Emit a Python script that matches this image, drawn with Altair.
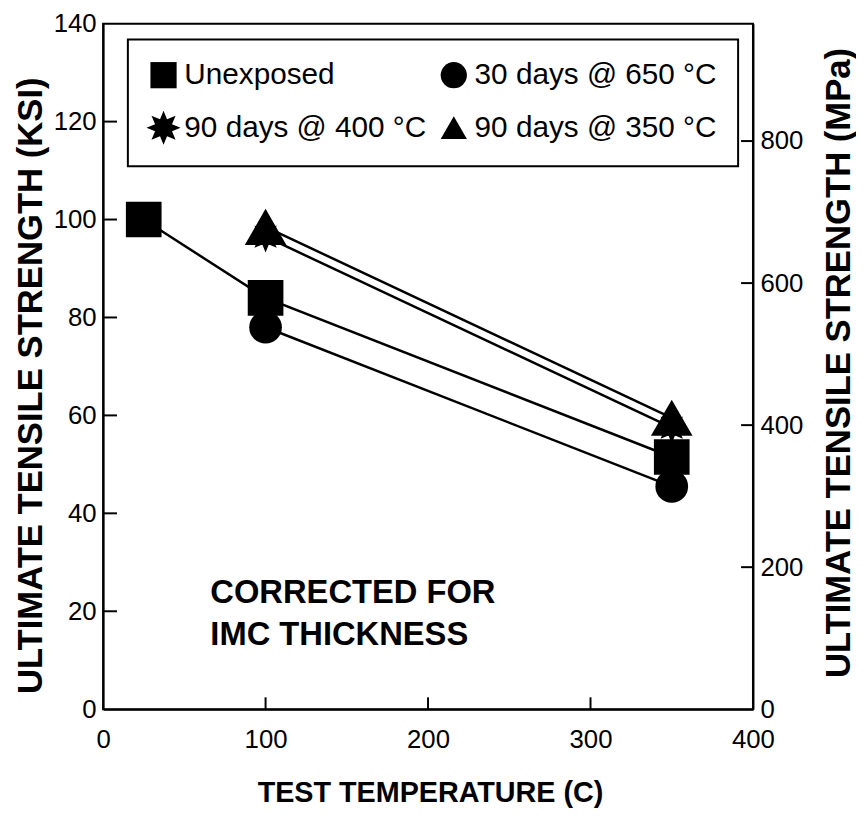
import altair as alt
import pandas as pd
import numpy as np

# ---- data ----
series = ["Unexposed", "30 days @ 650 °C", "90 days @ 400 °C", "90 days @ 350 °C"]
temp_unexposed = [25, 100, 350]
ksi_unexposed = [100, 84, 51.5]
temp_650 = [100, 350]
ksi_650 = [78, 45.5]
temp_400 = [100, 350]
ksi_400 = [96.5, 57.5]
temp_350 = [100, 350]
ksi_350 = [98.5, 59.5]

x_ticks = [0, 100, 200, 300, 400]
ksi_ticks = [0, 20, 40, 60, 80, 100, 120, 140]
mpa_ticks = [0, 200, 400, 600, 800]
note_lines = ["CORRECTED FOR", "IMC THICKNESS"]
note_temp = [66, 66]
note_ksi = [23.7, 15.2]

KSI_TO_MPA = 6.895

temps = [temp_unexposed, temp_650, temp_400, temp_350]
ksis = [ksi_unexposed, ksi_650, ksi_400, ksi_350]
rows = []
for name, ts, ks in zip(series, temps, ksis):
    for t, k in zip(ts, ks):
        rows.append({"series": name, "temp": t, "ksi": k})
df = pd.DataFrame(rows)
ann = pd.DataFrame({"text": note_lines, "temp": note_temp, "ksi": note_ksi})

# star (asterisk-like) symbol path
ang = np.arange(16) * np.pi / 8 - np.pi / 2
rad = np.where(np.arange(16) % 2 == 0, 1.3, 0.7)
star = "M" + " L".join(f"{r*np.cos(a):.3f},{r*np.sin(a):.3f}" for r, a in zip(rad, ang)) + " Z"
shape_of = {series[0]: "square", series[1]: "circle", series[2]: star, series[3]: "triangle-up"}
size_of = {series[0]: 1296, series[1]: 1089, series[2]: 600, series[3]: 1764}

# legend fills column by column: order so rows read as in the reference
legend_order = [series[0], series[2], series[1], series[3]]

W, H = 656, 692
FONT = "Liberation Sans"

x_scale = alt.Scale(domain=[0, 400], nice=False)
y_scale = alt.Scale(domain=[0, 140], nice=False)

x_enc = alt.X("temp:Q", scale=x_scale,
              axis=alt.Axis(values=x_ticks, title="TEST TEMPERATURE (C)",
                            titleFontSize=29, titleX=330, titleY=93,
                            titleBaseline="alphabetic", titleAlign="center",
                            labelPadding=18, labelFlush=False))
y_enc = alt.Y("ksi:Q", scale=y_scale,
              axis=alt.Axis(values=ksi_ticks, title="ULTIMATE  TENSILE  STRENGTH  (KSI)",
                            titleFontSize=35, titleAngle=270, titleX=-62, titleY=365,
                            titleAlign="center", titleBaseline="alphabetic",
                            labelPadding=7, labelFlush=False))

shape_enc = alt.Shape(
    "series:N",
    scale=alt.Scale(domain=legend_order, range=[shape_of[s] for s in legend_order]),
    legend=alt.Legend(title=None, orient="none", legendX=25, legendY=16,
                      columns=2, padding=21, rowPadding=20,
                      columnPadding=12, symbolSize=700,
                      symbolFillColor="black", symbolStrokeColor="black",
                      symbolStrokeWidth=0, symbolOpacity=1,
                      labelFont=FONT, labelFontSize=30,
                      labelColor="black", labelLimit=500,
                      labelOffset=6, strokeColor="black"))

lines = alt.Chart(df).mark_line(color="black", strokeWidth=2.5).encode(
    x=x_enc, y=y_enc, detail="series:N")

point_layers = []
for name in series:
    point_layers.append(
        alt.Chart(df).transform_filter(alt.datum.series == name)
        .mark_point(filled=True, color="black", opacity=1, size=size_of[name])
        .encode(x=x_enc, y=y_enc, shape=shape_enc)
    )

note = alt.Chart(ann).mark_text(align="left", baseline="middle", font=FONT,
                                fontSize=33, fontWeight="bold", color="black").encode(
    x=x_enc, y=y_enc, text="text:N")

left_ticks = alt.Chart(pd.DataFrame({"ksi": ksi_ticks[1:-1]})).mark_rule(
    color="black", strokeWidth=2).encode(y=y_enc, x=alt.value(0), x2=alt.value(14))

bottom_ticks = alt.Chart(pd.DataFrame({"temp": x_ticks[1:-1]})).mark_rule(
    color="black", strokeWidth=2).encode(x=x_enc, y=alt.value(H), y2=alt.value(H - 12))

ksi_layer = alt.layer(lines, left_ticks, bottom_ticks, note, *point_layers)

mpa_y = alt.Y("mpa:Q", scale=alt.Scale(domain=[0, 140 * KSI_TO_MPA], nice=False),
              axis=alt.Axis(orient="right", values=mpa_ticks,
                            title="ULTIMATE  TENSILE  STRENGTH  (MPa)",
                            titleFontSize=35, titleAngle=270, titleX=97, titleY=342,
                            titleAlign="center", titleBaseline="alphabetic",
                            labelPadding=7, labelFlush=False))
right_ticks = alt.Chart(pd.DataFrame({"mpa": mpa_ticks[1:]})).mark_rule(
    color="black", strokeWidth=2).encode(y=mpa_y, x=alt.value(W - 12), x2=alt.value(W))

chart = alt.layer(ksi_layer, right_ticks).resolve_scale(y="independent").properties(
    width=W, height=H,
    autosize=alt.AutoSizeParams(type="none"),
    padding={"left": 96, "top": 12, "right": 104, "bottom": 105},
).configure_view(stroke="black", strokeWidth=2).configure_axis(
    grid=False, ticks=False, domainColor="black", domainWidth=2,
    labelFont=FONT, labelFontSize=26, labelColor="black",
    titleFont=FONT, titleFontWeight="bold", titleColor="black",
).configure_legend(strokeWidth=2)

chart.save("out.html", embed_options={"renderer": "svg", "actions": False})
